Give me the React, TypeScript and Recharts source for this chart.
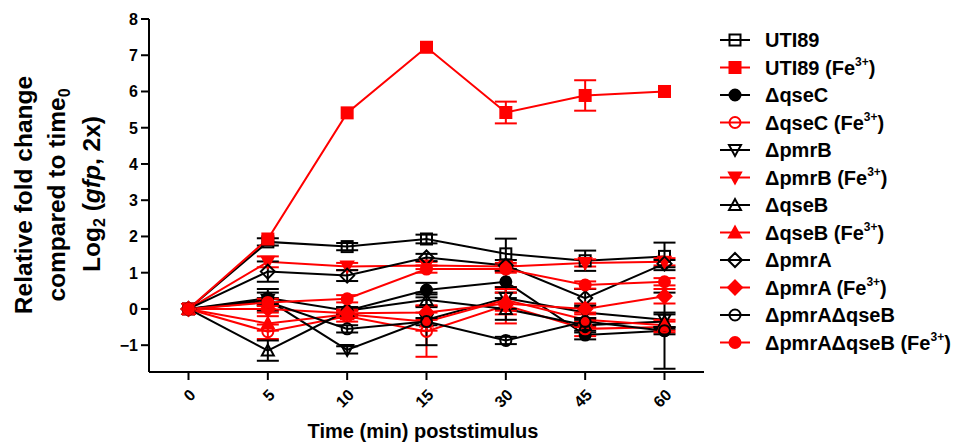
import React from 'react';
import { LineChart, Line, XAxis, YAxis, ErrorBar } from 'recharts';

const times = ['0', '5', '10', '15', '30', '45', '60'];

const uti89 = [0, 1.85, 1.72, 1.93, 1.52, 1.33, 1.45];
const uti89Err = [0, 0.1, 0.1, 0.12, 0.42, 0.28, 0.38];
const uti89Fe = [0, 1.93, 5.41, 7.22, 5.42, 5.89, 6.0];
const uti89FeErr = [0, 0, 0, 0, 0.3, 0.42, 0];
const qseC = [0, 0.3, -0.05, 0.52, 0.75, -0.72, -0.6];
const qseCErr = [0, 0.15, 0.1, 0.2, 0.3, 0.12, 1.05];
const qseCFe = [0, -0.63, -0.2, -0.62, 0.1, -0.55, -0.5];
const qseCFeErr = [0, 0.2, 0.15, 0.7, 0.5, 0.2, 0.15];
const pmrB = [0, 0.25, -1.13, -0.3, 0.3, -0.1, -0.3];
const pmrBErr = [0, 0.3, 0.1, 0.7, 0.3, 0.2, 0.2];
const pmrBFe = [0, 1.3, 1.17, 1.2, 1.17, 1.27, 1.3];
const pmrBFeErr = [0, 0.15, 0.1, 0.1, 0.1, 0.1, 0.1];
const qseB = [0, -1.15, -0.05, 0.25, 0.0, -0.45, -0.35];
const qseBErr = [0, 0.28, 0.1, 0.2, 0.3, 0.2, 0.2];
const qseBFe = [0, -0.4, -0.15, -0.35, 0.25, -0.3, -0.45];
const qseBFeErr = [0, 0.2, 0.1, 0.25, 0.3, 0.2, 0.15];
const pmrA = [0, 1.03, 0.92, 1.42, 1.2, 0.3, 1.25];
const pmrAErr = [0, 0.28, 0.15, 0.1, 0.15, 0.25, 0.1];
const pmrAFe = [0, 0.0, -0.12, -0.1, 0.15, 0.0, 0.35];
const pmrAFeErr = [0, 0.1, 0.1, 0.2, 0.3, 0.15, 0.2];
const pmrAqseB = [0, 0.2, -0.55, -0.35, -0.87, -0.35, -0.6];
const pmrAqseBErr = [0, 0.1, 0.1, 0.1, 0.1, 0.1, 0.1];
const pmrAqseBFe = [0, 0.18, 0.28, 1.1, 1.1, 0.66, 0.75];
const pmrAqseBFeErr = [0, 0.1, 0.1, 0.1, 0.1, 0.1, 0.1];

const yTicks = [-1, 0, 1, 2, 3, 4, 5, 6, 7, 8];

const BLACK = '#000000';
const RED = '#ff0000';

type Series = {
  key: string;
  label: string;
  fe: boolean;
  color: string;
  shape: string;
  values: number[];
  errs: number[];
};

const series: Series[] = [
  { key: 'uti89', label: 'UTI89', fe: false, color: BLACK, shape: 'square-open', values: uti89, errs: uti89Err },
  { key: 'uti89Fe', label: 'UTI89', fe: true, color: RED, shape: 'square', values: uti89Fe, errs: uti89FeErr },
  { key: 'qseC', label: '\u0394qseC', fe: false, color: BLACK, shape: 'circle', values: qseC, errs: qseCErr },
  { key: 'qseCFe', label: '\u0394qseC', fe: true, color: RED, shape: 'circle-open', values: qseCFe, errs: qseCFeErr },
  { key: 'pmrB', label: '\u0394pmrB', fe: false, color: BLACK, shape: 'tri-down-open', values: pmrB, errs: pmrBErr },
  { key: 'pmrBFe', label: '\u0394pmrB', fe: true, color: RED, shape: 'tri-down', values: pmrBFe, errs: pmrBFeErr },
  { key: 'qseB', label: '\u0394qseB', fe: false, color: BLACK, shape: 'tri-up-open', values: qseB, errs: qseBErr },
  { key: 'qseBFe', label: '\u0394qseB', fe: true, color: RED, shape: 'tri-up', values: qseBFe, errs: qseBFeErr },
  { key: 'pmrA', label: '\u0394pmrA', fe: false, color: BLACK, shape: 'diamond-open', values: pmrA, errs: pmrAErr },
  { key: 'pmrAFe', label: '\u0394pmrA', fe: true, color: RED, shape: 'diamond', values: pmrAFe, errs: pmrAFeErr },
  { key: 'pmrAqseB', label: '\u0394pmrA\u0394qseB', fe: false, color: BLACK, shape: 'circle-open', values: pmrAqseB, errs: pmrAqseBErr },
  { key: 'pmrAqseBFe', label: '\u0394pmrA\u0394qseB', fe: true, color: RED, shape: 'circle', values: pmrAqseBFe, errs: pmrAqseBFeErr },
];

const data = times.map((t, i) => {
  const row: Record<string, any> = { t };
  series.forEach((s) => {
    row[s.key] = s.values[i];
    row[s.key + 'Err'] = s.errs[i];
  });
  return row;
});

const FONT = '"Liberation Sans", Arial, Helvetica, sans-serif';

function Marker({ cx, cy, shape, color }: { cx: number; cy: number; shape: string; color: string }) {
  const sw = 2;
  const open = shape.endsWith('-open');
  const fill = open ? 'none' : color;
  const base = shape.replace('-open', '');
  if (base === 'square') {
    return <rect x={cx - 5.5} y={cy - 5.5} width={11} height={11} fill={fill} stroke={color} strokeWidth={sw} />;
  }
  if (base === 'circle') {
    return <circle cx={cx} cy={cy} r={5.5} fill={fill} stroke={color} strokeWidth={sw} />;
  }
  if (base === 'tri-down') {
    return (
      <polygon
        points={`${cx - 6},${cy - 5} ${cx + 6},${cy - 5} ${cx},${cy + 6}`}
        fill={fill}
        stroke={color}
        strokeWidth={sw}
      />
    );
  }
  if (base === 'tri-up') {
    return (
      <polygon
        points={`${cx - 6},${cy + 5} ${cx + 6},${cy + 5} ${cx},${cy - 6}`}
        fill={fill}
        stroke={color}
        strokeWidth={sw}
      />
    );
  }
  return (
    <polygon
      points={`${cx},${cy - 7} ${cx + 7},${cy} ${cx},${cy + 7} ${cx - 7},${cy}`}
      fill={fill}
      stroke={color}
      strokeWidth={sw}
    />
  );
}

function XTick(props: any) {
  const { x, y, payload } = props;
  return (
    <g transform={`translate(${x + 8},${y + 14})`}>
      <text
        x={0}
        y={0}
        textAnchor="end"
        transform="rotate(-45)"
        fontFamily={FONT}
        fontWeight="bold"
        fontSize={16}
        fill="#000"
      >
        {payload.value}
      </text>
    </g>
  );
}

function YTick(props: any) {
  const { x, y, payload } = props;
  const v = payload.value;
  const label = v < 0 ? '\u2212' + Math.abs(v) : String(v);
  return (
    <text x={x} y={y} dy={6} textAnchor="end" fontFamily={FONT} fontWeight="bold" fontSize={16} fill="#000">
      {label}
    </text>
  );
}

export default function App() {
  const legendTop = 40;
  const legendStep = 27.5;
  return (
    <div style={{ position: 'absolute', left: 0, top: 0, width: 968, height: 447, background: '#fff' }}>
      <LineChart width={968} height={447} data={data} margin={{ top: 19, right: 264, bottom: 25, left: 89 }}>
        <XAxis
          dataKey="t"
          type="category"
          height={50}
          padding={{ left: 39.5, right: 39.5 }}
          axisLine={{ stroke: '#000', strokeWidth: 2 }}
          tickLine={{ stroke: '#000', strokeWidth: 2 }}
          tickSize={8}
          tickMargin={2}
          tick={<XTick />}
          interval={0}
        />
        <YAxis
          type="number"
          width={60}
          domain={[-1.74, 8]}
          ticks={yTicks}
          allowDataOverflow
          axisLine={{ stroke: '#000', strokeWidth: 2 }}
          tickLine={{ stroke: '#000', strokeWidth: 2 }}
          tickSize={8}
          tickMargin={3}
          tick={<YTick />}
          interval={0}
        />
        {series.map((s) => (
          <Line
            key={s.key}
            dataKey={s.key}
            type="linear"
            stroke={s.color}
            strokeWidth={2}
            isAnimationActive={false}
            activeDot={false}
            dot={(p: any) => (
              <Marker key={`${s.key}-${p.index}`} cx={p.cx} cy={p.cy} shape={s.shape} color={s.color} />
            )}
          >
            <ErrorBar
              dataKey={s.key + 'Err'}
              width={11}
              stroke={s.color}
              strokeWidth={2}
              direction="y"
              isAnimationActive={false}
            />
          </Line>
        ))}
      </LineChart>
      <svg
        width={968}
        height={447}
        style={{ position: 'absolute', left: 0, top: 0, pointerEvents: 'none' }}
        fontFamily={FONT}
        fontWeight="bold"
      >
        <text transform="translate(32,195) rotate(-90)" textAnchor="middle" fontSize={24.5} fill="#000">
          Relative fold change
        </text>
        <text transform="translate(65,195) rotate(-90)" textAnchor="middle" fontSize={24.5} fill="#000">
          compared to time
          <tspan fontSize={16} dy={5}>
            0
          </tspan>
        </text>
        <text transform="translate(100,194) rotate(-90)" textAnchor="middle" fontSize={24.5} fill="#000">
          Log
          <tspan fontSize={16} dy={5}>
            2
          </tspan>
          <tspan dy={-5}> (</tspan>
          <tspan fontStyle="italic">gfp</tspan>
          <tspan>, 2x)</tspan>
        </text>
        <text x={423} y={438} textAnchor="middle" fontSize={20} fill="#000">
          Time (min) poststimulus
        </text>
        {series.map((s, i) => {
          const cy = legendTop + i * legendStep;
          return (
            <g key={s.key}>
              <line x1={720} x2={750} y1={cy} y2={cy} stroke={s.color} strokeWidth={2} />
              <Marker cx={735} cy={cy} shape={s.shape} color={s.color} />
              <text x={765} y={cy + 7} fontSize={20} fill="#000">
                {s.label}
                {s.fe ? (
                  <>
                    <tspan> (Fe</tspan>
                    <tspan fontSize={12} dy={-9}>
                      3+
                    </tspan>
                    <tspan dy={9}>)</tspan>
                  </>
                ) : null}
              </text>
            </g>
          );
        })}
      </svg>
    </div>
  );
}
